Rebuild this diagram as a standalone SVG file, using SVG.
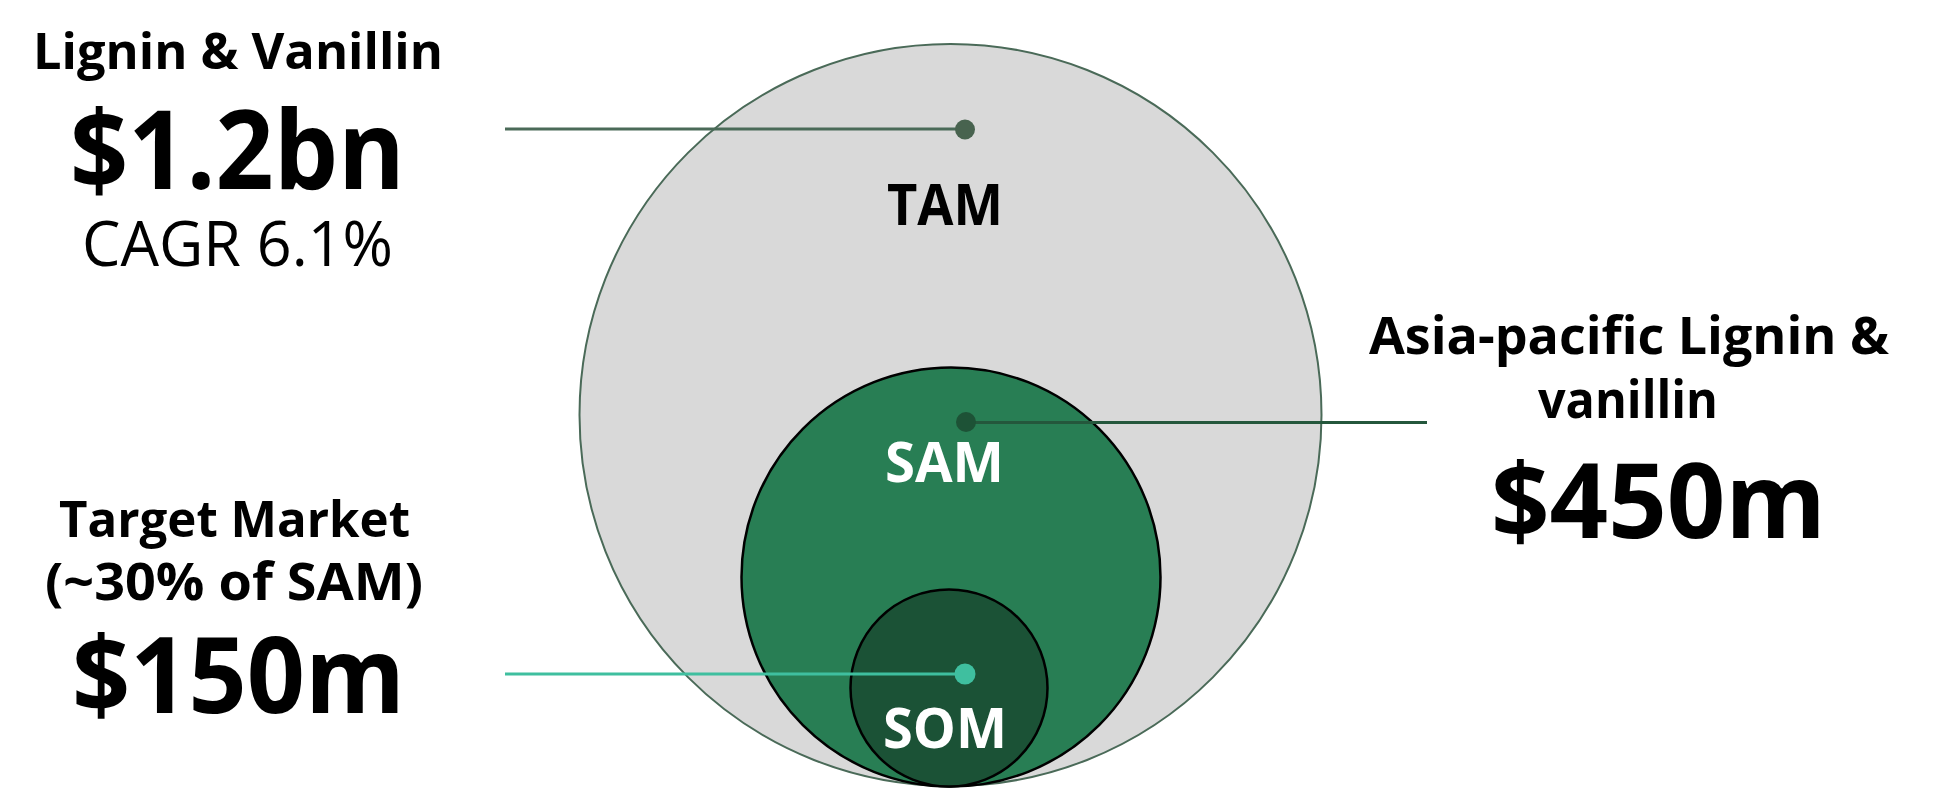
<svg xmlns="http://www.w3.org/2000/svg" width="1937" height="792" viewBox="0 0 1937 792">
<style>
text{font-family:"Open Sans","Noto Sans","DejaVu Sans",sans-serif;text-anchor:middle;fill:#000}
.b{font-weight:700}
.r{font-weight:400}
.w{fill:#fff}
.conn{stroke-width:3;fill:none}
</style>
<rect width="1937" height="792" fill="#fff"/>
<g id="tam">
<circle cx="950.5" cy="415" r="371" fill="#d9d9d9" stroke="#4a6a58" stroke-width="2"/>
<text class="b" x="945" y="225" font-size="57" textLength="116" lengthAdjust="spacingAndGlyphs">TAM</text>
</g>
<g id="sam">
<circle cx="951" cy="577" r="209.5" fill="#287e54" stroke="#000" stroke-width="2.5"/>
<text class="b w" x="944.5" y="482" font-size="56" textLength="119" lengthAdjust="spacingAndGlyphs">SAM</text>
</g>
<g id="som">
<circle cx="949" cy="688" r="98.5" fill="#1b5236" stroke="#000" stroke-width="2.5"/>
<text class="b w" x="945" y="748" font-size="56" textLength="124" lengthAdjust="spacingAndGlyphs">SOM</text>
</g>
<g id="connectors">
<line class="conn" x1="505" y1="129" x2="965" y2="129" stroke="#4a6a58"/>
<circle cx="965" cy="129.5" r="10" fill="#48634f"/>
<line class="conn" x1="966" y1="422.5" x2="1427" y2="422.5" stroke="#24573c"/>
<circle cx="966" cy="422" r="10" fill="#1d5236"/>
<line class="conn" x1="505" y1="674" x2="965" y2="674" stroke="#3fbf9f"/>
<circle cx="965" cy="674" r="10.5" fill="#3fbf9f"/>
</g>
<g id="label-tam">
<text class="b" x="238" y="69" font-size="50" textLength="410" lengthAdjust="spacingAndGlyphs">Lignin &amp; Vanillin</text>
<text class="b" x="237.5" y="189" font-size="110" textLength="335" lengthAdjust="spacingAndGlyphs">$1.2bn</text>
<text class="r" x="237.5" y="266" font-size="62" textLength="311" lengthAdjust="spacingAndGlyphs">CAGR 6.1%</text>
</g>
<g id="label-sam">
<text class="b" x="1629" y="354" font-size="52" textLength="520" lengthAdjust="spacingAndGlyphs">Asia-pacific Lignin &amp;</text>
<text class="b" x="1628" y="418" font-size="52" textLength="180" lengthAdjust="spacingAndGlyphs">vanillin</text>
<text class="b" x="1658.5" y="538" font-size="104" textLength="335" lengthAdjust="spacingAndGlyphs">$450m</text>
</g>
<g id="label-som">
<text class="b" x="234.5" y="537" font-size="50" textLength="351" lengthAdjust="spacingAndGlyphs">Target Market</text>
<text class="b" x="234" y="600" font-size="52" textLength="378" lengthAdjust="spacingAndGlyphs">(~30% of SAM)</text>
<text class="b" x="238.5" y="713" font-size="105" textLength="333" lengthAdjust="spacingAndGlyphs">$150m</text>
</g>
</svg>
